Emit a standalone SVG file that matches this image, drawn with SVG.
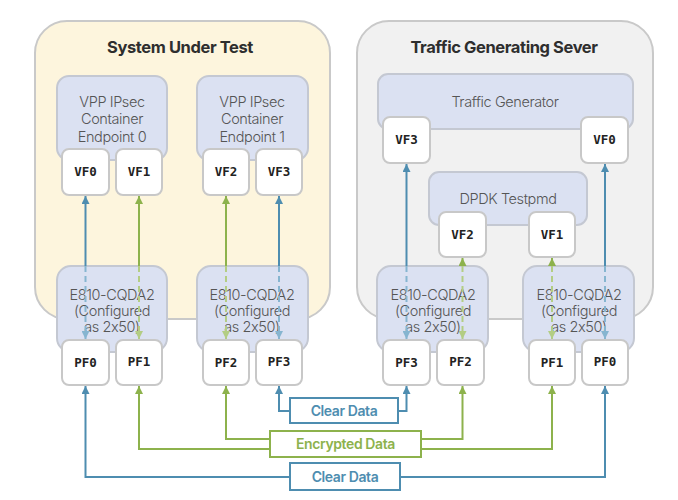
<svg xmlns="http://www.w3.org/2000/svg" width="678" height="500" viewBox="0 0 678 500">
<style>
.sys{fill:#fdf5dd;stroke:#c9c9c9;stroke-width:2}
.srv{fill:#f1f1f1;stroke:#c9c9c9;stroke-width:2}
.title{font-family:Inter,"Open Sans",sans-serif;font-weight:700;font-size:16.5px;fill:#2e2e2e;text-anchor:middle;letter-spacing:-0.4px}
.inner{fill:#dbe1f2;stroke:#c4c8d2;stroke-width:2}
.it{font-family:Inter,"Open Sans",sans-serif;font-weight:300;font-size:14.5px;fill:#555;text-anchor:middle;letter-spacing:-0.4px}
.port{fill:#fff;stroke:#c8c8c8;stroke-width:2}
.pt{font-family:"DejaVu Sans Mono","Liberation Mono",monospace;font-weight:700;font-size:12.5px;fill:#222;text-anchor:middle}
.bl{fill:none;stroke:#4e8db0;stroke-width:2}
.gr{fill:none;stroke:#8db24c;stroke-width:2}
.bld{fill:none;stroke:#86b5d0;stroke-width:2;stroke-dasharray:6 4}
.grd{fill:none;stroke:#b3cd84;stroke-width:2;stroke-dasharray:6 4}
.lb{fill:#fff;stroke:#4e8db0;stroke-width:2}
.lg{fill:#fff;stroke:#8db24c;stroke-width:2}
.lt{font-family:Inter,"Open Sans",sans-serif;font-weight:600;font-size:14px;text-anchor:middle;letter-spacing:-0.4px}
</style>
<defs>
<marker id="ab" viewBox="0 0 10 10" refX="10" refY="5" markerWidth="8" markerHeight="8" markerUnits="userSpaceOnUse" orient="auto"><path d="M0,0 L10,5 L0,10 z" fill="#4e8db0"/></marker>
<marker id="ag" viewBox="0 0 10 10" refX="10" refY="5" markerWidth="8" markerHeight="8" markerUnits="userSpaceOnUse" orient="auto"><path d="M0,0 L10,5 L0,10 z" fill="#8db24c"/></marker>
<marker id="abl" viewBox="0 0 10 10" refX="10" refY="5" markerWidth="8" markerHeight="8" markerUnits="userSpaceOnUse" orient="auto"><path d="M0,0 L10,5 L0,10 z" fill="#86b5d0"/></marker>
<marker id="agl" viewBox="0 0 10 10" refX="10" refY="5" markerWidth="8" markerHeight="8" markerUnits="userSpaceOnUse" orient="auto"><path d="M0,0 L10,5 L0,10 z" fill="#b3cd84"/></marker>
</defs>

<g id="system-under-test">
<rect class="sys" x="35" y="21" width="295" height="298" rx="32"/>
<text class="title" x="180" y="53">System Under Test</text>
</g>
<g id="traffic-generating-server">
<rect class="srv" x="357" y="21" width="296" height="298" rx="32"/>
<text class="title" x="504" y="53">Traffic Generating Sever</text>
</g>

<g id="vpp0">
<rect class="inner" x="57" y="76" width="110" height="84" rx="12"/>
<text class="it" x="112" y="107">VPP IPsec</text>
<text class="it" x="112" y="124">Container</text>
<text class="it" x="112" y="142">Endpoint 0</text>
</g>
<g id="vpp1">
<rect class="inner" x="197" y="76" width="111" height="84" rx="12"/>
<text class="it" x="252" y="107">VPP IPsec</text>
<text class="it" x="252" y="124">Container</text>
<text class="it" x="252" y="142">Endpoint 1</text>
</g>
<g id="traffic-generator">
<rect class="inner" x="378" y="74" width="255" height="55" rx="10"/>
<text class="it" x="505" y="107">Traffic Generator</text>
</g>
<g id="dpdk-testpmd">
<rect class="inner" x="429" y="172" width="158" height="53" rx="10"/>
<text class="it" x="508" y="204">DPDK Testpmd</text>
</g>

<g id="nic1">
<rect class="inner" x="57" y="266" width="110" height="86" rx="14"/>
<text class="it" x="112" y="300">E810-CQDA2</text>
<text class="it" x="112" y="316">(Configured</text>
<text class="it" x="112" y="332">as 2x50)</text>
</g>
<g id="nic2">
<rect class="inner" x="197" y="266" width="111" height="86" rx="14"/>
<text class="it" x="252" y="300">E810-CQDA2</text>
<text class="it" x="252" y="316">(Configured</text>
<text class="it" x="252" y="332">as 2x50)</text>
</g>
<g id="nic3">
<rect class="inner" x="377" y="266" width="111" height="86" rx="14"/>
<text class="it" x="433" y="300">E810-CQDA2</text>
<text class="it" x="433" y="316">(Configured</text>
<text class="it" x="433" y="332">as 2x50)</text>
</g>
<g id="nic4">
<rect class="inner" x="523" y="266" width="111" height="86" rx="14"/>
<text class="it" x="579" y="300">E810-CQDA2</text>
<text class="it" x="579" y="316">(Configured</text>
<text class="it" x="579" y="332">as 2x50)</text>
</g>

<g id="connectors">
<path class="bl" d="M85.5,266 V196" marker-end="url(#ab)"/>
<path class="bld" d="M85.5,266 V339" marker-end="url(#abl)"/>
<path class="gr" d="M139,266 V196" marker-end="url(#ag)"/>
<path class="grd" d="M139,266 V339" marker-end="url(#agl)"/>
<path class="gr" d="M226,266 V196" marker-end="url(#ag)"/>
<path class="grd" d="M226,266 V339" marker-end="url(#agl)"/>
<path class="bl" d="M279,266 V196" marker-end="url(#ab)"/>
<path class="bld" d="M279,266 V339" marker-end="url(#abl)"/>
<path class="bl" d="M406.5,266 V164" marker-end="url(#ab)"/>
<path class="bld" d="M406.5,266 V339" marker-end="url(#abl)"/>
<path class="gr" d="M462.5,266 V258" marker-end="url(#ag)"/>
<path class="grd" d="M462.5,266 V339" marker-end="url(#agl)"/>
<path class="gr" d="M552,266 V258" marker-end="url(#ag)"/>
<path class="grd" d="M552,266 V339" marker-end="url(#agl)"/>
<path class="bl" d="M605,266 V164" marker-end="url(#ab)"/>
<path class="bld" d="M605,266 V339" marker-end="url(#abl)"/>

<path class="bl" d="M290,411 H279 V386" marker-end="url(#ab)"/>
<path class="bl" d="M398,411 H406.5 V386" marker-end="url(#ab)"/>
<path class="gr" d="M270,439 H226 V386" marker-end="url(#ag)"/>
<path class="gr" d="M270,449 H139 V386" marker-end="url(#ag)"/>
<path class="gr" d="M421,439 H462.5 V386" marker-end="url(#ag)"/>
<path class="gr" d="M421,449 H552 V386" marker-end="url(#ag)"/>
<path class="bl" d="M290,477 H85.5 V386" marker-end="url(#ab)"/>
<path class="bl" d="M400,477 H605 V386" marker-end="url(#ab)"/>
</g>

<g id="vf0-l"><rect class="port" x="62" y="149" width="47" height="46" rx="7"/><text class="pt" x="85.5" y="176">VF0</text></g>
<g id="vf1-l"><rect class="port" x="116" y="149" width="46" height="46" rx="7"/><text class="pt" x="139" y="176">VF1</text></g>
<g id="vf2-l"><rect class="port" x="203" y="149" width="46" height="46" rx="7"/><text class="pt" x="226" y="176">VF2</text></g>
<g id="vf3-l"><rect class="port" x="256" y="149" width="46" height="46" rx="7"/><text class="pt" x="279" y="176">VF3</text></g>
<g id="vf3-r"><rect class="port" x="383" y="117" width="47" height="46" rx="7"/><text class="pt" x="406.5" y="144">VF3</text></g>
<g id="vf0-r"><rect class="port" x="581" y="117" width="47" height="46" rx="7"/><text class="pt" x="604.5" y="144">VF0</text></g>
<g id="vf2-r"><rect class="port" x="439" y="212" width="47" height="45" rx="7"/><text class="pt" x="462.5" y="239">VF2</text></g>
<g id="vf1-r"><rect class="port" x="529" y="212" width="46" height="45" rx="7"/><text class="pt" x="552" y="239">VF1</text></g>

<g id="pf0-l"><rect class="port" x="62" y="340" width="47" height="45" rx="7"/><text class="pt" x="85.5" y="367">PF0</text></g>
<g id="pf1-l"><rect class="port" x="116" y="340" width="46" height="45" rx="7"/><text class="pt" x="139" y="366">PF1</text></g>
<g id="pf2-l"><rect class="port" x="203" y="340" width="46" height="45" rx="7"/><text class="pt" x="226" y="367">PF2</text></g>
<g id="pf3-l"><rect class="port" x="256" y="340" width="46" height="45" rx="7"/><text class="pt" x="279" y="366">PF3</text></g>
<g id="pf3-r"><rect class="port" x="383" y="340" width="47" height="45" rx="7"/><text class="pt" x="406.5" y="367">PF3</text></g>
<g id="pf2-r"><rect class="port" x="437" y="340" width="47" height="45" rx="7"/><text class="pt" x="460.5" y="366">PF2</text></g>
<g id="pf1-r"><rect class="port" x="529" y="340" width="46" height="45" rx="7"/><text class="pt" x="552" y="367">PF1</text></g>
<g id="pf0-r"><rect class="port" x="582" y="340" width="46" height="45" rx="7"/><text class="pt" x="605" y="366">PF0</text></g>

<g id="clear-data-1"><rect class="lb" x="290" y="398" width="108" height="25"/><text class="lt" x="344" y="415.5" fill="#4e8db0">Clear Data</text></g>
<g id="encrypted-data"><rect class="lg" x="270" y="431" width="151" height="26"/><text class="lt" x="345.5" y="449" fill="#8db24c">Encrypted Data</text></g>
<g id="clear-data-2"><rect class="lb" x="290" y="463" width="110" height="27"/><text class="lt" x="345" y="481.5" fill="#4e8db0">Clear Data</text></g>
</svg>
